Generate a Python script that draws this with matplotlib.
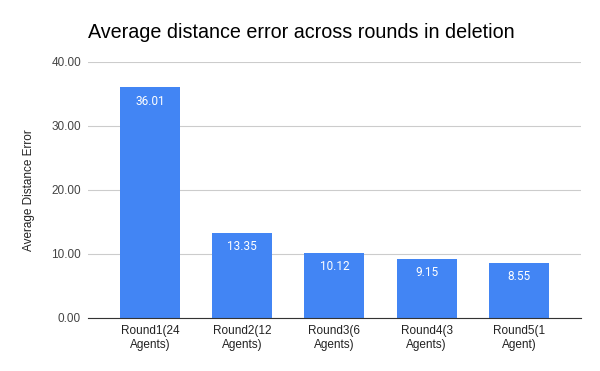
import matplotlib.pyplot as plt
import numpy as np

plt.rcParams['font.family'] = ['Liberation Sans', 'DejaVu Sans']

rounds = ['Round1(24\nAgents)', 'Round2(12\nAgents)', 'Round3(6\nAgents)',
          'Round4(3\nAgents)', 'Round5(1\nAgent)']
errors = [36.01, 13.35, 10.12, 9.15, 8.55]
yticks = [0, 10, 20, 30, 40]

fig = plt.figure(figsize=(6, 3.71), dpi=100)
ax = fig.add_axes([0.1467, 0.1429, 0.8213, 0.6901])

x = np.arange(len(rounds))
bars = ax.bar(x, errors, width=0.65, color='#4285F4', zorder=2)
for b, v in zip(bars, errors):
    ax.text(b.get_x() + b.get_width() / 2, v - 1.1, '%.2f' % v,
            ha='center', va='top', color='white', fontsize=8.5,
            family=['Roboto', 'DejaVu Sans'])

ax.set_xlim(-0.67, len(rounds) - 0.33)
ax.set_ylim(0, 40)
ax.set_yticks(yticks)
ax.set_yticklabels(['%.2f' % t for t in yticks], fontsize=8.5, color='#444444')
ax.set_xticks(x)
ax.set_xticklabels(rounds, fontsize=8.5, color='#222222', linespacing=1.25)
ax.tick_params(length=0, pad=5)
ax.tick_params(axis='x', pad=5)
ax.grid(axis='y', color='#cccccc', linewidth=0.8, zorder=0)
for s in ['top', 'right', 'left']:
    ax.spines[s].set_visible(False)
ax.spines['bottom'].set_color('#333333')
ax.spines['bottom'].set_zorder(3)

ax.set_ylabel('Average Distance Error', fontsize=8.5, color='#222222', labelpad=12)
fig.text(88 / 600, 1 - 32 / 371, 'Average distance error across rounds in deletion',
         fontsize=14.2, ha='left', va='center', color='#000000')

fig.savefig('out.png', dpi=100)
